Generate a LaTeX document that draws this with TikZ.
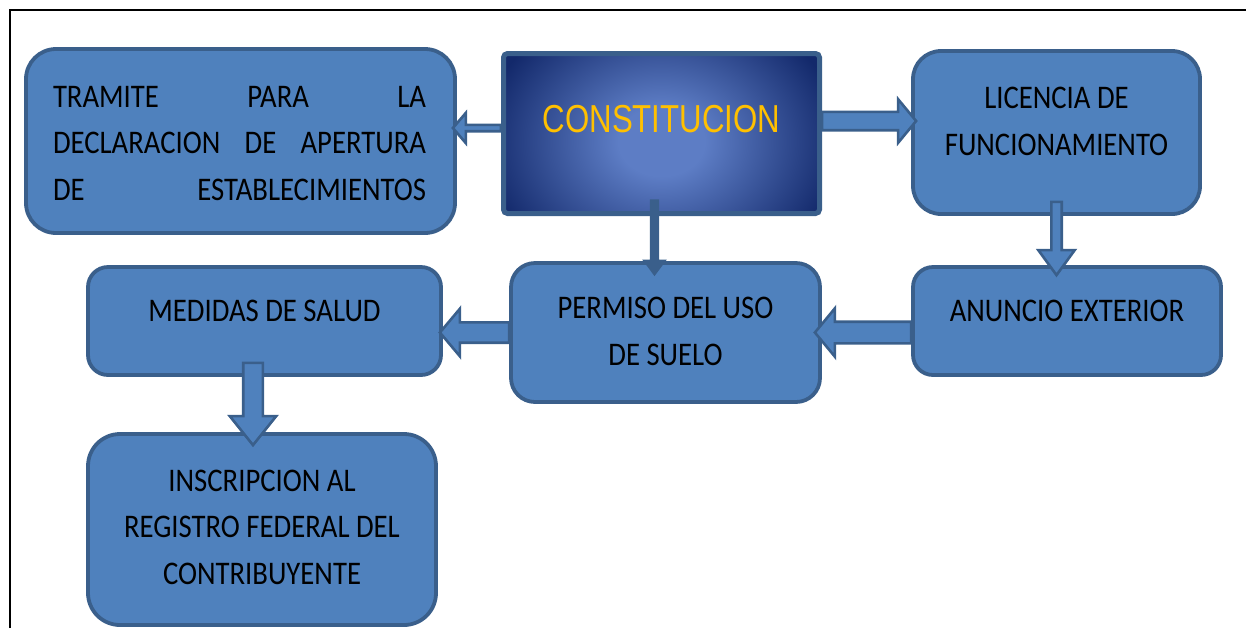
\documentclass[tikz,border=0pt]{standalone}
\usepackage{fontspec}
\setmainfont{Carlito}[FakeStretch=0.87]
\newfontfamily\fuentetitulo{Liberation Sans}[FakeStretch=0.80]
\usetikzlibrary{positioning}
\usetikzlibrary{calc}

\definecolor{azulcaja}{HTML}{4F81BD}
\definecolor{bordeazul}{HTML}{3A5F8B}
\definecolor{azulclaro}{HTML}{5D7DC5}
\definecolor{azuloscuro}{HTML}{13296B}
\definecolor{letraoro}{HTML}{FFC000}

\pgfdeclareradialshading{brillo}{\pgfpoint{0bp}{0bp}}{color(0bp)=(azulclaro); color(6bp)=(azulclaro); color(25bp)=(azuloscuro); color(50bp)=(azuloscuro)}

\tikzset{
  caja/.style={draw=bordeazul, fill=azulcaja, line width=1.9pt, rounded corners=#1, inner sep=0pt},
  caja/.default=10pt,
  texto/.style={font=\fontsize{16.5}{23.25}\selectfont, align=center, anchor=base, inner sep=0pt},
  flecha/.style={draw=bordeazul, fill=azulcaja, line width=1.3pt, line join=miter},
  flechallena/.style={draw=bordeazul, fill=bordeazul, line width=0.6pt, line join=miter},
}

% [estilo]{inicio}{punta}{medio ancho cuerpo}{medio ancho punta}{largo punta}
\newcommand{\flechabloque}[6][flecha]{%
  \coordinate (fb-m) at ($(#3)!#6!(#2)$);
  \draw[#1] ($(#2)!#4!90:(#3)$) -- ($(fb-m)!#4!90:(#3)$) -- ($(fb-m)!#5!90:(#3)$) -- (#3)
    -- ($(fb-m)!#5!-90:(#3)$) -- ($(fb-m)!#4!-90:(#3)$) -- ($(#2)!#4!-90:(#3)$) -- cycle;
}

\begin{document}
\begin{tikzpicture}[x=0.5pt,y=-0.5pt]
\useasboundingbox (0,0) rectangle (1246,628);
\draw[line width=1pt] (10,628) -- (10,10) -- (1246,10);

% cajas
\node[caja=15pt, minimum width=214.5pt, minimum height=92pt] (tramite) at (240.5,141) {};
\node[draw=bordeazul, line width=2.5pt, rounded corners=2pt, fill=azuloscuro,
  path picture={\shade[shading=brillo] ([yshift=-4pt]path picture bounding box.center)
    ellipse [x radius=90pt, y radius=72pt];},
  minimum width=158pt, minimum height=80pt, inner sep=0pt] (constitucion) at (661.5,133.5) {};
\node[caja=14pt, minimum width=143.5pt, minimum height=81.5pt] (licencia) at (1056.5,132.5) {};
\node[caja=10pt, minimum width=154pt, minimum height=54pt] (anuncio) at (1067,321) {};
\node[caja=12pt, minimum width=154.5pt, minimum height=69.5pt] (permiso) at (665.5,332.5) {};
\node[caja=10pt, minimum width=176.5pt, minimum height=54pt] (medidas) at (264.5,321) {};
\node[caja=16pt, minimum width=174pt, minimum height=95.5pt] (inscripcion) at (262,529.5) {};

% textos (base = ultima linea)
\node[texto] (t-tramite) at (239.5,200) {\makebox[186.5pt][s]{TRAMITE PARA LA}\\
  \makebox[186.5pt][s]{DECLARACION DE APERTURA}\\ \makebox[186.5pt][s]{DE ESTABLECIMIENTOS}};
\node[texto, font=\fuentetitulo\fontsize{19.5}{23}\selectfont, text=letraoro] (t-constitucion) at (661.5,132) {CONSTITUCION};
\node[texto] (t-licencia) at (1056.5,155) {LICENCIA DE\\FUNCIONAMIENTO};
\node[texto] (t-anuncio) at (1067,321) {ANUNCIO EXTERIOR};
\node[texto] (t-permiso) at (665.5,365) {PERMISO DEL USO\\DE SUELO};
\node[texto] (t-medidas) at (264.5,321) {MEDIDAS DE SALUD};
\node[texto] (t-inscripcion) at (262,584) {INSCRIPCION AL\\REGISTRO FEDERAL DEL\\CONTRIBUYENTE};

% flechas
\coordinate (a1i) at ([yshift=2.75pt]constitucion.west);
\coordinate (a1f) at ($(a1i -| tramite.east)+(-4,0)$);
\flechabloque{a1i}{a1f}{1.6pt}{7.6pt}{6.5pt}
\coordinate (a2i) at ([yshift=6.25pt]constitucion.east);
\coordinate (a2f) at ($(a2i -| licencia.west)+(5,0)$);
\flechabloque{a2i}{a2f}{4.6pt}{10.9pt}{9pt}
\coordinate (a3i) at ($(constitucion.south)+(-7,-16)$);
\coordinate (a3f) at ($(a3i |- permiso.north)+(0,14)$);
\flechabloque[flechallena]{a3i}{a3f}{2pt}{5.6pt}{7.5pt}
\coordinate (a4i) at ($(licencia.south)+(0,-14)$);
\coordinate (a4f) at ($(a4i |- anuncio.north)+(0,10)$);
\flechabloque{a4i}{a4f}{2.6pt}{9.1pt}{12.5pt}
\coordinate (a5i) at (anuncio.west |- permiso.east);
\coordinate (a5f) at ($(permiso.east)+(-7,0)$);
\flechabloque{a5i}{a5f}{5.4pt}{12.1pt}{10pt}
\coordinate (a6i) at (permiso.west);
\coordinate (a6f) at ($(permiso.west -| medidas.east)+(-3,0)$);
\flechabloque{a6i}{a6f}{5.1pt}{11.9pt}{10pt}
\coordinate (a7i) at ($(medidas.south)+(-11.5,-14)$);
\coordinate (a7f) at ($(a7i |- inscripcion.north)+(0,13)$);
\flechabloque{a7i}{a7f}{4.9pt}{11.6pt}{14.5pt}
\end{tikzpicture}
\end{document}
